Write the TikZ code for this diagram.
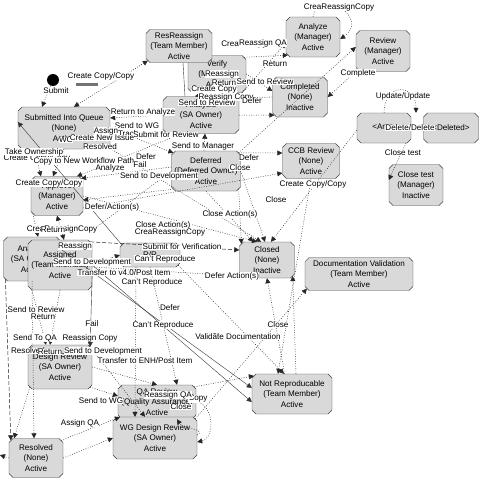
\documentclass[tikz,border=0pt]{standalone}
\usepackage{fontspec}
\setmainfont{Liberation Sans}
\usetikzlibrary{shapes.misc,arrows.meta}
\newcommand{\stfont}{\fontsize{8.1}{10.5}\selectfont}
\tikzset{
  st/.style={chamfered rectangle, chamfered rectangle xsep=2pt, chamfered rectangle ysep=2pt,
    draw=black!75, fill=black!15, align=center, inner sep=1pt, font=\stfont},
  lbl/.style={fill=white, inner sep=0.3pt, font=\stfont},
  con/.style={-{Triangle[length=5pt,width=5pt]}, dash pattern=on 0.8pt off 1.6pt, black!85, line width=0.5pt},
  bicon/.style={{Triangle[length=5pt,width=5pt]}-{Triangle[length=5pt,width=5pt]}, dash pattern=on 0.8pt off 1.6pt, black!85, line width=0.5pt},
  sol/.style={-{Triangle[length=5pt,width=5pt]}, black!80, line width=0.4pt},
  dsh/.style={-{Triangle[length=5pt,width=5pt]}, dash pattern=on 4pt off 2pt, black!85, line width=0.5pt},
}
\begin{document}
\begin{tikzpicture}[x=1pt,y=-1pt]
\useasboundingbox (0,0) rectangle (480,482);
% ---------- states ----------
\node[circle, fill=black, minimum size=12pt, inner sep=0pt] (init) at (53,80) {};
\node[fill=black!55, minimum width=22pt, minimum height=3pt, inner sep=0pt] (bar) at (87,84.5) {};
\node[st, minimum width=58pt, minimum height=37pt] (B) at (217,74) {Verify\\(Manager)\\Active};
\node[st, minimum width=66pt, minimum height=33pt] (A) at (179,46) {ResReassign\\(Team Member)\\Active};
\node[st, minimum width=54pt, minimum height=40pt] (C) at (313,37) {Analyze\\(Manager)\\Active};
\node[st, minimum width=54pt, minimum height=41pt] (D) at (383,51) {Review\\(Manager)\\Active};
\node[st, minimum width=55pt, minimum height=40pt] (E) at (300,97) {Completed\\(None)\\Inactive};
\node[st, minimum width=54pt, minimum height=30pt] (F) at (384,128) {<Any>};
\node[st, minimum width=55pt, minimum height=30pt] (G) at (451,128) {<Deleted>};
\node[st, minimum width=54pt, minimum height=41pt] (H) at (416,185) {Close test\\(Manager)\\Inactive};
\node[st, minimum width=57pt, minimum height=35pt] (I) at (311,161) {CCB Review\\(None)\\Active};
\node[st, minimum width=55pt, minimum height=36pt] (J) at (267,260) {Closed\\(None)\\Inactive};
\node[st, minimum width=108pt, minimum height=32pt] (K) at (359,274) {Documentation Validation\\(Team Member)\\Active};
\node[st, minimum width=80pt, minimum height=40pt] (L) at (292,394) {Not Reproducable\\(Team Member)\\Active};
\node[st, minimum width=92pt, minimum height=42pt] (M) at (64,128) {Submitted Into Queue\\(None)\\Active};
\node[st, minimum width=76pt, minimum height=37pt] (N) at (201,115) {Analysis\\(SA Owner)\\Active};
\node[st, minimum width=69pt, minimum height=40pt] (O) at (206,171) {Deferred\\(Deferred Owner)\\Active};
\node[st, minimum width=52pt, minimum height=39pt] (P) at (57,196) {Approve\\(Manager)\\Active};
\node[st, minimum width=57pt, minimum height=44pt] (Q) at (32,259) {Analyze\\(SA Owner)\\Active};
\node[st, minimum width=64pt, minimum height=50pt] (R) at (60,265) {Assigned\\(Team Member)\\Active};
\node[st, minimum width=60pt, minimum height=24pt] (S) at (150,255) {R/R};
\node[st, minimum width=64pt, minimum height=44pt] (T) at (60,367) {Design Review\\(SA Owner)\\Active};
\node[st, minimum width=54pt, minimum height=39pt] (U) at (36,458) {Resolved\\(None)\\Active};
\node[st, minimum width=78pt, minimum height=34pt] (V) at (157,402) {QA Review\\(Quality Assurance)\\Active};
\node[st, minimum width=84pt, minimum height=42pt] (W) at (155,438) {WG Design Review\\(SA Owner)\\Active};
% ---------- transitions ----------
\draw[con] (init) -- ([xshift=-22pt]M.north);
\draw[bicon] ([xshift=10pt]M.north) -- (A.south west);
\draw[sol,-] ([xshift=4pt]A.south) -- ([xshift=-16pt]N.north);
\draw[con] ([xshift=-8pt]B.south) -- ([xshift=-6pt]N.north);
\draw[con] (N.north east) -- ([yshift=-6pt]C.west);
\draw[con] (C.north) .. controls +(8,-32) and +(30,-20) .. ([yshift=-2pt]C.east);
\draw[con] (O.north east) -- ([yshift=4pt]D.west);
\draw[con] (D.south west) -- (E.east);
\draw[con] (N.east) -- (E.south west);
\draw[con] (B.east) -- ([yshift=6pt]E.west);
\draw[con] (B.north east) -- (C.south west);
\draw[con] (F.north) .. controls +(0,-30) and +(0,-30) .. ([xshift=32pt]F.north);
\draw[con] (F.east) -- (G.west);
\draw[con] ([xshift=22pt]F.south) -- ([yshift=5pt]H.west);
\draw[con] ([yshift=-2pt]F.west) -- ([xshift=4pt]J.north);
\draw[con] (O.north east) -- ([yshift=8pt]I.west);
\draw[con] (O.east) -- ([xshift=-2pt]J.north);
\draw[con] ([yshift=-12pt]P.east) -- ([yshift=-12pt]I.west);
\draw[con] (P.east) -- ([xshift=-10pt]J.north);
\draw[con] (M.south east) -- ([xshift=-6pt]J.north);
\draw[con] (O.south) -- ([xshift=-14pt]J.north);
\draw[dsh] (R.north east) -- ([yshift=10pt]J.west);
\draw[con] (L.110) -- (J.south);
\draw[con] ([xshift=4pt]L.north) -- (J.south east);
\draw[con] (I.south) -- ([xshift=-14pt]L.north);
\draw[con] (W.north east) -- (K.south west);
\draw[sol] (R.east) -- ([yshift=-8pt]L.west);
\draw[sol] ([yshift=10pt]Q.east) -- ([yshift=6pt]L.west);
\draw[con] (V.north east) -- (L.north west);
\draw[con] (S.south east) -- ([xshift=-8pt]L.north);
\draw[con] (T.south west) -- ([xshift=-22pt]U.north);
\draw[con] (Q.south) -- ([xshift=-2pt]U.north);
\draw[dsh] (Q.south west) -- (U.north west);
\draw[con] (U.east) -- (W.west);
\draw[con] (T.south east) -- ([yshift=6pt]V.west);
\draw[con] (U.north east) -- (V.south west);
\draw[con] (V.east) .. controls +(18,2) and +(18,-4) .. ([yshift=-4pt]W.east);
\draw[con] ([yshift=3pt]W.east) .. controls +(10,-6) and +(6,10) .. ([xshift=20pt]V.south);
\draw[con] (T.east) -- (V.north);
\draw[con] (S.south) -- ([xshift=20pt]V.north);
\draw[con] (R.south) -- ([xshift=-10pt]T.north);
\draw[con] ([xshift=-28pt]R.south) -- ([xshift=-14pt]T.north);
\draw[con] (M.south) -- ([xshift=-4pt]P.north);
\draw[con] ([xshift=-30pt]M.south) -- ([xshift=-16pt]P.north);
\draw[bicon] (P.south) -- ([xshift=4pt]R.north);
\draw[con] (P.south west) -- ([xshift=6pt]Q.north);
\draw[dsh] (R.east) -- (S.west);
\draw[con] (N.west) -- ([yshift=10pt]M.east);
\draw[con] (M.east) -- (O.north west);
\draw[bicon] ([xshift=4pt]N.south) -- ([xshift=-2pt]O.north);
\draw[con] (O.west) -- ([yshift=10pt]R.north east);
\draw[con] (O.south west) -- ([yshift=-4pt]P.east);
\draw[con] ([yshift=4pt]O.west) -- (P.north east);
\draw[con] ([yshift=-6pt]Q.east) -- (J.south west);
\draw[sol] (S.north west) -- ([yshift=6pt]M.west);
\draw[sol] ([yshift=-8pt]R.east) -- (T.north east);
\draw[con] (T.north east) -- ([xshift=-10pt]W.north);
\draw[con] ([xshift=-14pt]S.south) -- ([xshift=-20pt]W.north);
\draw[con] (O.south east) -- (J.north west);
\draw[con] ([xshift=-20pt]N.south) -- ([xshift=20pt]P.north);
\draw[con] (E.west) -- (N.north east);
\coordinate (uw) at (0,455);
\draw[con] (U.west) -- (uw);
% ---------- labels ----------
\node[lbl] (l1) at (56,91) {Submit};
\node[lbl] (l2) at (101,76) {Create Copy/Copy};
\node[lbl] (l3) at (339,7) {CreaReassignCopy};
\node[lbl] (l4) at (244,45) {Create Copy};
\node[lbl] (l5) at (263,43) {Reassign QA};
\node[lbl] (l6) at (275,64) {Return};
\node[lbl] (l7) at (222,74) {Reassign};
\node[lbl] (l8) at (224,83) {Return};
\node[lbl] (l9) at (265,82) {Send to Review};
\node[lbl] (l10) at (214,90) {Create Copy};
\node[lbl] (l11) at (226,97) {Reassign Copy};
\node[lbl] (l12) at (252,101) {Defer};
\node[lbl] (l13) at (358,73) {Complete};
\node[lbl] (l14) at (403,96) {Update/Update};
\node[lbl] (l15) at (410,128) {Delete/Delete};
\node[lbl] (l16) at (403,153) {Close test};
\node[lbl] (l17) at (313,184) {Create Copy/Copy};
\node[lbl] (l18) at (276,200) {Close};
\node[lbl] (l19) at (230,214) {Close Action(s)};
\node[lbl] (l20) at (249,158) {Defer};
\node[lbl] (l21) at (240,168) {Close};
\node[lbl] (l22) at (203,146) {Send to Manager};
\node[lbl] (l23) at (207,103) {Send to Review};
\node[lbl] (l24) at (143,112) {Return to Analyze};
\node[lbl] (l25) at (137,126) {Send to WG};
\node[lbl] (l26) at (106,131) {Assign};
\node[lbl] (l27) at (128,134) {Track};
\node[lbl] (l28) at (166,135) {Submit for Review};
\node[lbl] (l29) at (66,140) {WG};
\node[lbl] (l30) at (102,138) {Create New Issue};
\node[lbl] (l31) at (100,147) {Resolved};
\node[lbl] (l32) at (37,158) {Create Copy/Copy};
\node[lbl] (l33) at (34,152) {Take Ownership};
\node[lbl, anchor=west] (l34) at (33,161) {Copy to New Workflow Path};
\node[lbl] (l35) at (110,168) {Analyze};
\node[lbl] (l36) at (146,157) {Defer};
\node[lbl] (l37) at (140,165) {Fail};
\node[lbl] (l38) at (159,176) {Send to Development};
\node[lbl] (l39) at (49,183) {Create Copy/Copy};
\node[lbl] (l40) at (112,207) {Defer/Action(s)};
\node[lbl] (l41) at (163,225) {Close Action(s)};
\node[lbl] (l42) at (170,232) {CreaReassignCopy};
\node[lbl] (l43) at (62,229) {CreaReassignCopy};
\node[lbl] (l44) at (53,230) {Return};
\node[lbl] (l45) at (75,246) {Reassign};
\node[lbl] (l46) at (182,247) {Submit for Verification};
\node[lbl] (l47) at (165,259) {Can't Reproduce};
\node[lbl] (l48) at (92,262) {Send to Development};
\node[lbl] (l49) at (124,273) {Transfer to v4.0/Post Item};
\node[lbl] (l50) at (152,282) {Can't Reproduce};
\node[lbl] (l51) at (232,276) {Defer Action(s)};
\node[lbl] (l52) at (170,308) {Defer};
\node[lbl] (l53) at (163,325) {Can't Reproduce};
\node[lbl] (l54) at (92,324) {Fail};
\node[lbl] (l55) at (278,325) {Close};
\node[lbl] (l56) at (222,337) {Close};
\node[lbl] (l57) at (238,337) {Validate Documentation};
\node[lbl] (l58) at (36,310) {Send to Review};
\node[lbl] (l59) at (43,317) {Return};
\node[lbl] (l60) at (90,338) {Reassign Copy};
\node[lbl] (l61) at (35,338) {Send To QA};
\node[lbl] (l62) at (103,351) {Send to Development};
\node[lbl] (l63) at (28,351) {Resolved};
\node[lbl] (l64) at (50,352) {Return};
\node[lbl] (l65) at (145,361) {Transfer to ENH/Post Item};
\node[lbl] (l66) at (101,401) {Send to WG};
\node[lbl] (l67) at (198,399) {Copy};
\node[lbl] (l68) at (168,395) {Reassign QA};
\node[lbl] (l69) at (181,407) {Close};
\node[lbl] (l70) at (80,423) {Assign QA};
\end{tikzpicture}
\end{document}
